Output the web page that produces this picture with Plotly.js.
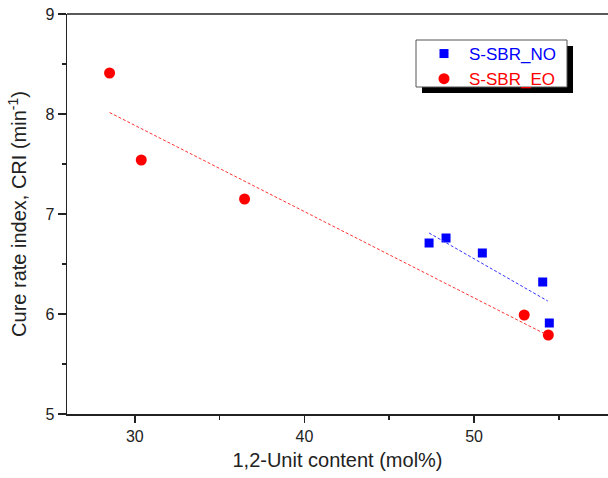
<!DOCTYPE html>
<html>
<head>
<meta charset="utf-8">
<script src="https://cdn.plot.ly/plotly-3.0.1.min.js"></script>
<style>html,body{margin:0;padding:0;background:#fff;}#chart{width:608px;height:478px;}</style>
</head>
<body>
<div id="chart"></div>
<script>
// Data
const noX = [47.35, 48.35, 50.49, 54.05, 54.44];
const noY = [6.71, 6.76, 6.61, 6.32, 5.91];
const eoX = [28.51, 30.38, 36.47, 52.96, 54.38];
const eoY = [8.41, 7.54, 7.15, 5.99, 5.79];
// Linear fit line endpoints
const noFitX = [47.35, 54.35];
const noFitY = [6.81, 6.13];
const eoFitX = [28.51, 54.19];
const eoFitY = [8.015, 5.80];

const xTicks = [30, 40, 50];
const yTicks = [5, 6, 7, 8, 9];

const FONT = 'Arial, "Liberation Sans", sans-serif';

const traces = [
  {x: noX, y: noY, type: 'scatter', mode: 'markers', name: 'S-SBR_NO',
   marker: {symbol: 'square', size: 9, color: '#0000FF'}},
  {x: eoX, y: eoY, type: 'scatter', mode: 'markers', name: 'S-SBR_EO',
   marker: {symbol: 'circle', size: 11, color: '#FF0000'}},
  {x: noFitX, y: noFitY, type: 'scatter', mode: 'lines', showlegend: false,
   line: {color: '#3333FF', width: 1, dash: '3px,2px'}},
  {x: eoFitX, y: eoFitY, type: 'scatter', mode: 'lines', showlegend: false,
   line: {color: '#FF3333', width: 1, dash: '3px,2px'}}
];

// pixel -> paper helpers for the legend frame
const PL = 67, PW = 541, PB = 414, PH = 400;
const px = v => (v - PL) / PW;
const py = v => (PB - v) / PH;

const layout = {
  width: 608, height: 478,
  margin: {l: 67, r: 0, t: 14, b: 64},
  paper_bgcolor: '#fff', plot_bgcolor: '#fff',
  font: {family: FONT, color: '#000'},
  showlegend: true,
  xaxis: {
    range: [26, 57.9], showgrid: false, zeroline: false,
    showline: true, linecolor: '#222', linewidth: 1.5,
    tickmode: 'array', tickvals: xTicks, ticktext: xTicks.map(String),
    ticks: 'outside', ticklen: 7, tickwidth: 1.5, tickcolor: '#222',
    minor: {tickvals: [35, 45, 55], ticks: 'outside', ticklen: 4, tickwidth: 1.5, tickcolor: '#222'},
    tickfont: {size: 16, family: FONT, color: '#222'},
    title: {text: '1,2-Unit content (mol%)', font: {size: 20, family: FONT, color: '#222'}, standoff: 9}
  },
  yaxis: {
    range: [5, 9], showgrid: false, zeroline: false,
    showline: true, linecolor: '#222', linewidth: 1.5,
    tickmode: 'array', tickvals: yTicks, ticktext: yTicks.map(String),
    ticks: 'outside', ticklen: 8, tickwidth: 1.5, tickcolor: '#222',
    minor: {tickvals: [5.5, 6.5, 7.5, 8.5], ticks: 'outside', ticklen: 4, tickwidth: 1.5, tickcolor: '#222'},
    tickfont: {size: 16, family: FONT, color: '#222'},
    title: {text: 'Cure rate index, CRI (min<sup>-1</sup>)', font: {size: 20, family: FONT, color: '#222'}, standoff: 13}
  },
  legend: {
    x: px(419), y: py(36), xanchor: 'left', yanchor: 'top',
    bgcolor: 'rgba(0,0,0,0)', borderwidth: 0,
    font: {size: 17, family: FONT},
    itemwidth: 40, tracegroupgap: 0
  },
  shapes: [
    {type: 'line', xref: 'paper', yref: 'paper', x0: 0, x1: 1, y0: 1, y1: 1,
     line: {color: '#222', width: 1.5}},
    {type: 'rect', xref: 'paper', yref: 'paper', layer: 'above',
     x0: px(422), x1: px(573), y0: py(93), y1: py(46),
     fillcolor: '#000', line: {width: 0}},
    {type: 'rect', xref: 'paper', yref: 'paper', layer: 'above',
     x0: px(416), x1: px(567), y0: py(87), y1: py(40),
     fillcolor: '#fff', line: {color: '#555', width: 1}}
  ]
};

Plotly.newPlot('chart', traces, layout, {staticPlot: true}).then(function(gd){
  // color legend texts like their series
  const texts = gd.querySelectorAll('.legend .legendtext');
  const cols = ['#0000FF', '#FF0000'];
  texts.forEach(function(t, i){ t.style.fill = cols[i]; });
});
</script>
</body>
</html>
